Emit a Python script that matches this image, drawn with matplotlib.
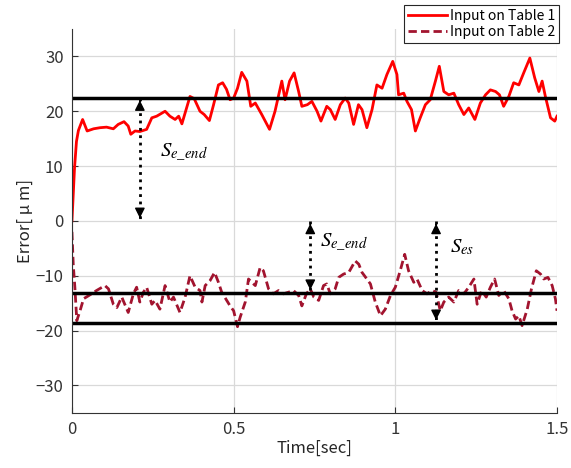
import matplotlib
matplotlib.use("Agg")
import matplotlib.pyplot as plt

plt.rcParams["font.family"] = ["Noto Sans CJK JP", "DejaVu Sans"]
plt.rcParams["mathtext.fontset"] = "stix"

# Input on Table 1 (red, solid)
t1 = [0.0, 0.003, 0.008, 0.014, 0.02, 0.033, 0.047, 0.067, 0.087, 0.107, 0.128, 0.143,
      0.161, 0.174, 0.182, 0.195, 0.21, 0.231, 0.247, 0.262, 0.288, 0.303, 0.319, 0.33,
      0.34, 0.365, 0.378, 0.396, 0.409, 0.425, 0.438, 0.453, 0.466, 0.478, 0.489, 0.5,
      0.512, 0.525, 0.541, 0.553, 0.567, 0.587, 0.611, 0.628, 0.649, 0.659, 0.673, 0.687,
      0.701, 0.711, 0.728, 0.742, 0.758, 0.77, 0.788, 0.799, 0.814, 0.83, 0.845, 0.856,
      0.871, 0.886, 0.897, 0.912, 0.928, 0.943, 0.959, 0.974, 0.992, 1.005, 1.01, 1.026,
      1.036, 1.05, 1.062, 1.077, 1.093, 1.108, 1.124, 1.136, 1.15, 1.165, 1.181, 1.196,
      1.212, 1.227, 1.246, 1.263, 1.279, 1.294, 1.31, 1.322, 1.335, 1.351, 1.366, 1.382,
      1.397, 1.416, 1.431, 1.444, 1.454, 1.464, 1.48, 1.493, 1.5]
e1 = [0.0, 3.6, 9.7, 14.5, 16.5, 18.5, 16.4, 16.8, 17.0, 17.1, 16.8, 17.6,
      18.1, 17.3, 15.8, 16.4, 16.3, 16.7, 18.8, 19.1, 20.0, 19.1, 18.5, 19.1,
      17.7, 22.7, 22.3, 20.0, 19.4, 18.3, 21.2, 24.8, 25.2, 24.0, 22.1, 22.4,
      24.2, 27.1, 25.5, 20.9, 21.5, 19.4, 16.7, 20.0, 25.5, 22.1, 25.5, 27.0,
      23.6, 20.9, 21.2, 21.8, 20.0, 18.2, 20.9, 20.3, 18.5, 21.2, 22.4, 21.5,
      17.6, 21.2, 20.3, 17.0, 20.3, 24.8, 24.2, 26.7, 29.1, 26.7, 23.0, 23.3,
      21.8, 20.3, 16.4, 18.8, 21.2, 22.1, 25.5, 28.2, 23.6, 23.0, 23.3, 21.2,
      19.4, 20.6, 18.5, 21.5, 23.0, 23.9, 23.6, 23.0, 20.9, 22.7, 25.2, 24.8,
      27.0, 29.7, 26.1, 23.6, 25.5, 22.7, 18.8, 18.2, 19.1]

# Input on Table 2 (dark red, dashed)
t2 = [0.0, 0.004, 0.009, 0.015, 0.025, 0.036, 0.061, 0.076, 0.102, 0.113, 0.128, 0.139,
      0.154, 0.174, 0.19, 0.2, 0.21, 0.221, 0.231, 0.247, 0.257, 0.272, 0.288, 0.303,
      0.314, 0.334, 0.35, 0.365, 0.381, 0.396, 0.402, 0.412, 0.427, 0.441, 0.453, 0.463,
      0.489, 0.5, 0.512, 0.52, 0.536, 0.546, 0.556, 0.567, 0.582, 0.592, 0.608, 0.623,
      0.639, 0.654, 0.67, 0.685, 0.701, 0.711, 0.725, 0.737, 0.748, 0.763, 0.778, 0.788,
      0.799, 0.814, 0.825, 0.84, 0.856, 0.876, 0.887, 0.897, 0.912, 0.923, 0.938, 0.954,
      0.969, 0.985, 1.0, 1.015, 1.029, 1.041, 1.057, 1.067, 1.083, 1.098, 1.114, 1.126,
      1.139, 1.15, 1.165, 1.181, 1.196, 1.212, 1.227, 1.243, 1.253, 1.267, 1.281, 1.294,
      1.307, 1.32, 1.335, 1.351, 1.361, 1.372, 1.382, 1.392, 1.408, 1.421, 1.436, 1.449,
      1.459, 1.472, 1.485, 1.495, 1.5]
e2 = [-2.0, -7.9, -12.1, -18.2, -16.4, -14.2, -13.3, -12.7, -11.8, -12.4, -15.2, -15.8,
      -13.9, -16.7, -13.3, -12.1, -14.8, -13.0, -12.1, -15.2, -14.5, -16.1, -11.8, -14.8,
      -13.9, -16.7, -13.9, -10.0, -12.1, -12.7, -14.8, -11.8, -10.9, -9.4, -11.2, -13.0,
      -15.5, -16.4, -19.3, -17.6, -14.8, -10.6, -11.2, -11.8, -8.5, -9.1, -12.4, -13.3,
      -12.7, -13.3, -13.0, -12.7, -13.6, -15.5, -13.3, -12.4, -13.9, -14.5, -11.8, -11.5,
      -13.3, -12.4, -10.3, -9.7, -9.4, -7.3, -7.9, -9.4, -10.6, -11.5, -14.8, -17.3,
      -16.1, -13.6, -12.1, -9.1, -6.1, -9.1, -11.2, -10.6, -12.7, -13.3, -12.7, -13.0,
      -16.4, -14.8, -13.9, -14.8, -12.7, -13.3, -12.1, -10.6, -15.2, -12.7, -13.9, -12.1,
      -10.6, -13.6, -12.7, -14.2, -16.4, -17.9, -17.3, -19.1, -16.1, -12.4, -9.1, -9.7,
      -10.6, -10.3, -11.8, -14.2, -16.4]

ref_levels = [22.5, -13.1, -18.6]

# dotted double arrows: (time, y_from, y_to)
arrows = [(0.21, 22.5, 0.0), (0.737, 0.0, -13.1), (1.126, 0.0, -18.6)]
arrow_labels = [(0.272, 12.7, r"$S_{e\_end}$"), (0.768, -3.6, r"$S_{e\_end}$"),
                (1.17, -4.6, r"$S_{es}$")]

fig = plt.figure(figsize=(5.71, 4.68), dpi=100)
ax = fig.add_axes([0.126, 0.118, 0.8495, 0.82])

ax.plot(t1, e1, color="#ff0000", linewidth=2, label="Input on Table 1")
ax.plot(t2, e2, color="#a2142f", linewidth=2, linestyle=(0, (3, 1.5)), label="Input on Table 2")

for lvl in ref_levels:
    ax.axhline(lvl, color="black", linewidth=2.5)

for x, y0, y1 in arrows:
    ax.plot([x, x], [y0, y1], color="black", linestyle=":", linewidth=2)
    d = 1.2 if y1 > y0 else -1.2
    ax.annotate("", xy=(x, y1), xytext=(x, y1 - d),
                arrowprops=dict(arrowstyle="-|>", color="black", lw=1, mutation_scale=15))
    ax.annotate("", xy=(x, y0), xytext=(x, y0 + d),
                arrowprops=dict(arrowstyle="-|>", color="black", lw=1, mutation_scale=15))

for x, y, s in arrow_labels:
    ax.text(x, y, s, fontsize=15, va="center", ha="left")

ax.set_xlim(0, 1.5)
ax.set_ylim(-35, 35)
ax.set_xticks([0, 0.5, 1, 1.5])
ax.set_xticklabels(["0", "0.5", "1", "1.5"])
ax.set_yticks([-30, -20, -10, 0, 10, 20, 30])
ax.grid(color="#d9d9d9", linewidth=0.9)
ax.set_axisbelow(True)
ax.tick_params(direction="in", labelsize=12, colors="#333333", length=4, pad=6)
for side in ["top", "right"]:
    ax.spines[side].set_visible(False)
for side in ["left", "bottom"]:
    ax.spines[side].set_color("#333333")
ax.set_xlabel("Time[sec]", fontsize=12, color="#262626", labelpad=1)
ax.set_ylabel("Error[ μ m]", fontsize=12, color="#262626", labelpad=1)

leg = ax.legend(loc="upper right", bbox_to_anchor=(1.004, 1.063), fontsize=10,
                frameon=True, fancybox=False, edgecolor="#262626", framealpha=1,
                handlelength=2.8, handletextpad=0.2, borderpad=0.3, labelspacing=0.15,
                borderaxespad=0)
leg.get_frame().set_linewidth(0.8)

fig.savefig("out.png", dpi=100)
